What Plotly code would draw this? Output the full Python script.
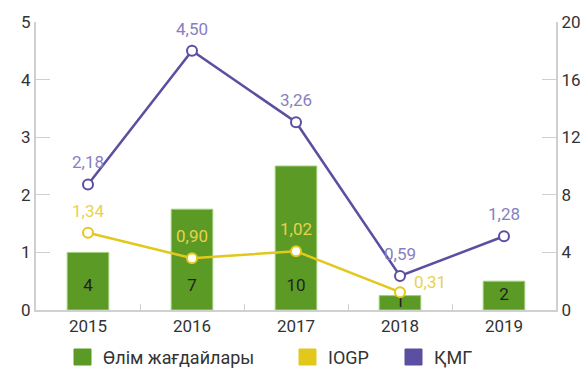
import plotly.graph_objects as go

years = ["2015", "2016", "2017", "2018", "2019"]
deaths = [4, 7, 10, 1, 2]                 # Өлім жағдайлары (right axis)
iogp = [1.34, 0.90, 1.02, 0.31, None]      # IOGP (left axis)
kmg = [2.18, 4.50, 3.26, 0.59, 1.28]       # ҚМГ (left axis)
legend_names = ["Өлім жағдайлары", "IOGP", "ҚМГ"]

GREEN = "#5b9a24"
YELLOW = "#e3c81c"
PURPLE = "#5a4fa0"
FONT = "Roboto"


def fmt(v):
    return f"{v:.2f}".replace(".", ",")


fig = go.Figure()

# bars live on the primary axis (drawn right), lines on the overlaid one
fig.add_trace(go.Bar(
    x=years, y=deaths, yaxis="y", width=0.4,
    marker=dict(color=GREEN, line=dict(color="#a5cf7a", width=1)),
    name=legend_names[0], showlegend=False, hoverinfo="skip",
))

# count labels near the base of each bar
fig.add_trace(go.Scatter(
    x=years, y=[min(v / 2, 1.6) for v in deaths], yaxis="y",
    mode="text", text=[str(v) for v in deaths],
    textfont=dict(family=FONT, size=17, color="#222"),
    showlegend=False, hoverinfo="skip",
))

for vals, col, name in [(iogp, YELLOW, legend_names[1]), (kmg, PURPLE, legend_names[2])]:
    fig.add_trace(go.Scatter(
        x=years, y=vals, yaxis="y2", mode="lines+markers", name=name,
        line=dict(color=col, width=2.5),
        marker=dict(size=10, color="white", line=dict(color=col, width=2)),
        showlegend=False, hoverinfo="skip",
    ))

annotations = []
# value labels above the line points (x given as category index)
for vals, tcol, shifts in [
    (iogp, "#e8d24e", {3: (30, 10)}),
    (kmg, "#8680c2", {}),
]:
    for i, v in enumerate(vals):
        if v is None:
            continue
        dx, dy = shifts.get(i, (0, 22))
        annotations.append(dict(x=i, y=v, xref="x", yref="y2", text=fmt(v),
                                showarrow=False, xshift=dx, yshift=dy,
                                font=dict(family=FONT, size=17, color=tcol)))

axis_common = dict(showgrid=False, zeroline=False, showline=True,
                   linecolor="#d0d0d0", linewidth=2, ticks="inside",
                   tickcolor="#d0d0d0", tickwidth=1, ticklen=14,
                   tickfont=dict(family=FONT, size=17, color="#333"))

# hand-built legend below the plot (positions in plot-area fractions)
L, W, T, H = 36, 520, 22, 288
legend_items = [(legend_names[0], GREEN, 74), (legend_names[1], YELLOW, 299),
                (legend_names[2], PURPLE, 405)]
shapes = []
for name, col, px in legend_items:
    x0, x1 = (px - L) / W, (px + 17 - L) / W
    y0, y1 = (T + H - 365) / H, (T + H - 349) / H
    shapes.append(dict(type="rect", xref="paper", yref="paper",
                       x0=x0, x1=x1, y0=y0, y1=y1,
                       fillcolor=col, line=dict(color=col, width=1)))
    annotations.append(dict(xref="paper", yref="paper", x=(px + 27 - L) / W,
                            y=(T + H - 357) / H, xanchor="left", yanchor="middle",
                            text=name, showarrow=False,
                            font=dict(family=FONT, size=18, color="#333")))

fig.update_layout(
    width=588, height=369,
    margin=dict(l=36, r=32, t=22, b=59, autoexpand=False),
    paper_bgcolor="white", plot_bgcolor="white",
    showlegend=False,
    xaxis=dict(type="category", showgrid=False, zeroline=False, showline=True,
               linecolor="#d0d0d0", linewidth=2, ticks="inside",
               tickson="boundaries", ticklen=6, tickcolor="#d0d0d0",
               tickfont=dict(family=FONT, size=17, color="#333")),
    yaxis=dict(range=[0, 20], dtick=4, side="right", **axis_common),
    yaxis2=dict(range=[0, 5], dtick=1, overlaying="y", side="left",
                **axis_common),
    shapes=shapes, annotations=annotations,
)

fig.write_html("out.html")
